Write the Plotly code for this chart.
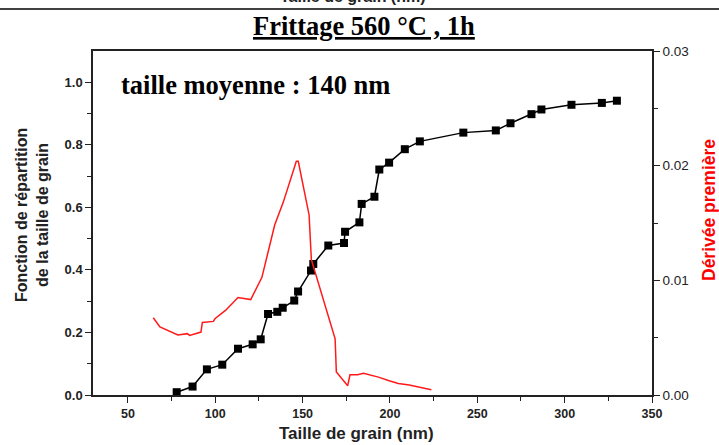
import plotly.graph_objects as go

# Cumulative distribution (left axis)
cdf_x = [77.9, 87.0, 95.2, 104.0, 113.0, 121.4, 126.0, 130.2, 135.5, 138.6, 145.2, 147.4,
         154.8, 156.1, 164.7, 173.7, 174.3, 182.5, 183.8, 191.1, 193.9, 199.5, 208.5, 217.1,
         242.0, 260.6, 269.0, 281.0, 286.7, 303.9, 321.3, 329.9]
cdf_y = [0.009, 0.027, 0.082, 0.097, 0.148, 0.162, 0.178, 0.259, 0.266, 0.279, 0.302, 0.331,
         0.398, 0.419, 0.478, 0.486, 0.522, 0.552, 0.611, 0.634, 0.721, 0.743, 0.786, 0.811,
         0.839, 0.846, 0.869, 0.898, 0.913, 0.928, 0.934, 0.941]

# First derivative (right axis)
der_x = [64.5, 68.3, 78.6, 84.0, 85.3, 91.8, 92.6, 98.9, 99.8, 106.0, 113.0, 120.3, 126.7,
         130.9, 134.0, 138.9, 146.4, 147.5, 151.8, 153.7, 155.0, 168.6, 169.3, 175.8, 177.1,
         181.5, 184.8, 193.4, 199.5, 204.8, 211.0, 223.7]
der_y = [0.00674, 0.00593, 0.00523, 0.00535, 0.00520, 0.00549, 0.00633, 0.00642, 0.00665,
         0.00740, 0.00850, 0.00832, 0.01026, 0.01295, 0.01483, 0.01680, 0.02038, 0.02038,
         0.01700, 0.01570, 0.01180, 0.00490, 0.00200, 0.00081, 0.00176, 0.00176, 0.00190,
         0.00156, 0.00124, 0.00101, 0.00087, 0.00046]

x_ticks = [50, 100, 150, 200, 250, 300, 350]
y_ticks = [0, 0.2, 0.4, 0.6, 0.8, 1.0]
y_ticktext = ["0.0", "0.2", "0.4", "0.6", "0.8", "1.0"]
y2_ticks = [0, 0.01, 0.02, 0.03]
y2_ticktext = ["0.00", "0.01", "0.02", "0.03"]

x_range = [30, 350]
y_range = [0, 1.1]
y2_range = [0, 0.03]

fig = go.Figure()
fig.add_trace(go.Scatter(x=der_x, y=der_y, mode="lines", yaxis="y2",
                         line=dict(color="#ff1a1a", width=1.5), showlegend=False))
fig.add_trace(go.Scatter(x=cdf_x, y=cdf_y, mode="lines+markers",
                         line=dict(color="black", width=1.5),
                         marker=dict(symbol="square", size=8, color="black"),
                         showlegend=False))

axis_common = dict(showgrid=False, zeroline=False, showline=True, linecolor="#222",
                   linewidth=1.5, ticks="outside", ticklen=6, tickwidth=1.2, tickcolor="#222")

fig.update_layout(
    width=719, height=445,
    margin=dict(l=93, r=67, t=51, b=50),
    paper_bgcolor="white", plot_bgcolor="white",
    xaxis=dict(range=x_range, tickvals=x_ticks,
               minor=dict(tickvals=[75, 125, 175, 225, 275, 325], ticks="outside",
                          ticklen=4, tickcolor="#222"),
               tickfont=dict(family="Liberation Sans, Arial", size=12.5, color="#222",
                             weight="bold"),
               mirror=True, **axis_common),
    yaxis=dict(range=y_range, tickvals=y_ticks, ticktext=y_ticktext,
               minor=dict(tickvals=[0.1, 0.3, 0.5, 0.7, 0.9], ticks="outside",
                          ticklen=4, tickcolor="#222"),
               tickfont=dict(family="Liberation Sans, Arial", size=13, color="#222",
                             weight="bold"),
               **axis_common),
    yaxis2=dict(range=y2_range, overlaying="y", side="right",
                tickvals=y2_ticks, ticktext=y2_ticktext,
                minor=dict(tickvals=[0.005, 0.015, 0.025], ticks="outside",
                           ticklen=4, tickcolor="#222"),
                tickfont=dict(family="Liberation Sans, Arial", size=13.5, color="#222"),
                **axis_common),
)

W, H = 559.0, 344.0
def px(xp):
    return (xp - 93) / W
def py(yp):
    return (395 - yp) / H

# cut-off text and line at the very top
fig.add_annotation(text="<b>Taille de grain (nm)</b>", xref="paper", yref="paper",
                   x=px(353), y=py(7), xanchor="center", yanchor="bottom", showarrow=False,
                   font=dict(family="Liberation Sans, Arial", size=16, color="#222"))
fig.add_shape(type="line", xref="paper", yref="paper", x0=px(0), x1=px(719),
              y0=py(9), y1=py(9), line=dict(color="black", width=1.5))

# title
fig.add_annotation(text="<b><u>Frittage 560 °C , 1h</u></b>", xref="paper", yref="paper",
                   x=px(364), y=py(26), xanchor="center", yanchor="middle", showarrow=False,
                   font=dict(family="Liberation Serif, Times New Roman", size=26.5, color="black"))

# inner label
fig.add_annotation(text="<b>taille moyenne : 140 nm</b>", xref="paper", yref="paper",
                   x=px(119), y=py(85), xanchor="left", yanchor="middle", showarrow=False,
                   font=dict(family="Liberation Serif, Times New Roman", size=26.5, color="black"))

# axis titles
fig.add_annotation(text="<b>Taille de grain (nm)</b>", xref="paper", yref="paper",
                   x=px(356), y=py(433), xanchor="center", yanchor="middle", showarrow=False,
                   font=dict(family="Liberation Sans, Arial", size=17, color="#222"))
fig.add_annotation(text="<b>Fonction de répartition<br>de la taille de grain</b>",
                   xref="paper", yref="paper", x=px(32), y=py(215), textangle=-90,
                   xanchor="center", yanchor="middle", showarrow=False,
                   font=dict(family="Liberation Sans, Arial", size=16, color="#222"))
fig.add_annotation(text="<b>Dérivée première</b>", xref="paper", yref="paper",
                   x=px(709), y=py(210), textangle=-90, xanchor="center", yanchor="middle",
                   showarrow=False,
                   font=dict(family="Liberation Sans, Arial", size=17.5, color="#ff0000"))

fig.write_html("out.html", config={"displayModeBar": False},
               post_script="document.body.style.margin='0';document.body.style.overflow='hidden';")
